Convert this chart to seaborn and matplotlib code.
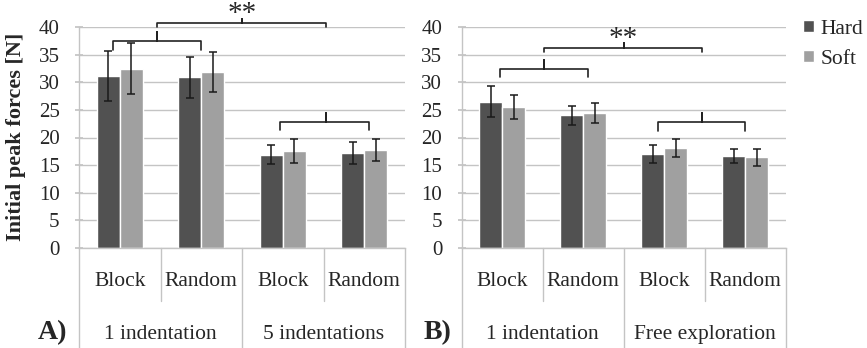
import matplotlib
matplotlib.use("Agg")
import matplotlib.pyplot as plt
import seaborn as sns
import pandas as pd
import numpy as np

sns.set_theme(style="white")
plt.rcParams["font.family"] = ["Liberation Serif", "DejaVu Serif"]

# data
orders = ["Block", "Random", "Block ", "Random "]
surfaces = ["Hard", "Soft"]

hard_a = [31.2, 30.9, 16.9, 17.2]
hard_a_err = [4.5, 3.8, 1.8, 2.0]
soft_a = [32.5, 31.9, 17.6, 17.8]
soft_a_err = [4.6, 3.7, 2.2, 2.0]
groups_a = ["1 indentation", "5 indentations"]

hard_b = [26.5, 24.0, 17.0, 16.6]
hard_b_err = [2.8, 1.8, 1.6, 1.25]
soft_b = [25.5, 24.5, 18.1, 16.4]
soft_b_err = [2.2, 1.8, 1.6, 1.6]
groups_b = ["1 indentation", "Free exploration"]

colors = {"Hard": "#515151", "Soft": "#a0a0a0"}
grid_c = "#c4c4c4"

W, H = 867, 348
fig = plt.figure(figsize=(W / 100, H / 100), dpi=100)

def px_axes(x0, x1, ytop, ybot):
    return fig.add_axes([x0 / W, 1 - ybot / H, (x1 - x0) / W, (ybot - ytop) / H])

ax_a = px_axes(79, 405, 27.3, 247.7)
ax_b = px_axes(461.7, 785.7, 27.3, 247.7)


def make_df(hard, soft, hard_err, soft_err):
    return pd.DataFrame({
        "order": orders * 2,
        "surface": ["Hard"] * 4 + ["Soft"] * 4,
        "force": hard + soft,
        "err": hard_err + soft_err,
    })


def brace(ax, x0, x1, y, yend, xm, ytop):
    xs = [x0, x0, xm, xm, xm, x1, x1]
    ys = [yend, y, y, ytop, y, y, yend]
    ax.plot(xs, ys, color="#222222", lw=1.2, clip_on=False, solid_joinstyle="round")


def draw_panel(ax, df, groups, letter):
    sns.barplot(data=df, x="order", y="force", hue="surface", order=orders,
                hue_order=surfaces, palette=colors, errorbar=None,
                width=0.57, saturation=1, ax=ax, legend=(letter == "B)"))
    for cont, s in zip(ax.containers, surfaces):
        sub = df[df["surface"] == s]
        xs = [b.get_x() + b.get_width() / 2 for b in cont]
        ax.errorbar(xs, sub["force"], yerr=sub["err"], fmt="none",
                    ecolor="#1a1a1a", elinewidth=1.1, capsize=3, capthick=1.1)
    ax.set_xlim(-0.5, 3.5)
    ax.set_ylim(0, 40)
    ax.set_yticks(range(0, 41, 5))
    ax.yaxis.grid(True, color=grid_c, lw=1)
    ax.set_axisbelow(True)
    ax.set_xlabel("")
    ax.set_ylabel("")
    ax.set_xticks([])
    for s in ["top", "right"]:
        ax.spines[s].set_visible(False)
    for s in ["left", "bottom"]:
        ax.spines[s].set_color(grid_c)
        ax.spines[s].set_linewidth(1)
    ax.tick_params(axis="y", direction="inout", length=6, color=grid_c,
                   labelsize=15, pad=11, left=True)
    ax.set_facecolor("none")

    tr = ax.get_xaxis_transform()
    # separators under the axis
    for x in [-0.5, 1.5, 3.5]:
        ax.plot([x, x], [0, -0.46], color=grid_c, lw=1, transform=tr, clip_on=False)
    for x in [0.5, 2.5]:
        ax.plot([x, x], [0, -0.24], color=grid_c, lw=1, transform=tr, clip_on=False)
    for i, lab in enumerate(orders):
        ax.text(i, -0.155, lab.strip(), transform=tr, ha="center", va="center",
                fontsize=15.5)
    for i, g in enumerate(groups):
        ax.text(0.5 + 2 * i, -0.395, g, transform=tr, ha="center", va="center",
                fontsize=15.5)


draw_panel(ax_a, make_df(hard_a, soft_a, hard_a_err, soft_a_err), groups_a, "A)")
draw_panel(ax_b, make_df(hard_b, soft_b, hard_b_err, soft_b_err), groups_b, "B)")

# significance braces
brace(ax_a, 0.46, 2.53, 40.85, 40.1, 1.5, 41.5)
brace(ax_a, -0.08, 1.0, 37.5, 35.9, 0.46, 39.2)
brace(ax_a, 1.97, 3.06, 22.9, 21.4, 2.53, 24.4)
ax_a.text(1.5, 42.4, "**", ha="center", va="center", fontsize=21, clip_on=False)

brace(ax_b, 0.516, 2.47, 36.3, 35.6, 1.5, 37.1)
brace(ax_b, -0.027, 1.06, 32.4, 30.9, 0.516, 34.1)
brace(ax_b, 1.92, 3.0, 22.9, 21.2, 2.47, 24.5)
ax_b.text(1.5, 37.9, "**", ha="center", va="center", fontsize=21, clip_on=False)

fig.text(52 / W, 1 - 333 / H, "A)", fontsize=20, fontweight="bold", ha="center", va="center")
fig.text(438 / W, 1 - 333 / H, "B)", fontsize=20, fontweight="bold", ha="center", va="center")
fig.text(16 / W, 1 - 137 / H, "Initial peak forces [N]", rotation=90, fontsize=16,
         fontweight="bold", ha="center", va="center")

handles, labels = ax_b.get_legend_handles_labels()
ax_b.get_legend().remove()
fig.legend(handles, labels, loc="upper left", bbox_to_anchor=(803 / W, 1 - 20 / H),
           frameon=False, fontsize=15.5, handlelength=0.5, handleheight=0.5,
           handletextpad=0.3, labelspacing=0.5, borderaxespad=0, borderpad=0)

fig.savefig("out.png", dpi=100)
